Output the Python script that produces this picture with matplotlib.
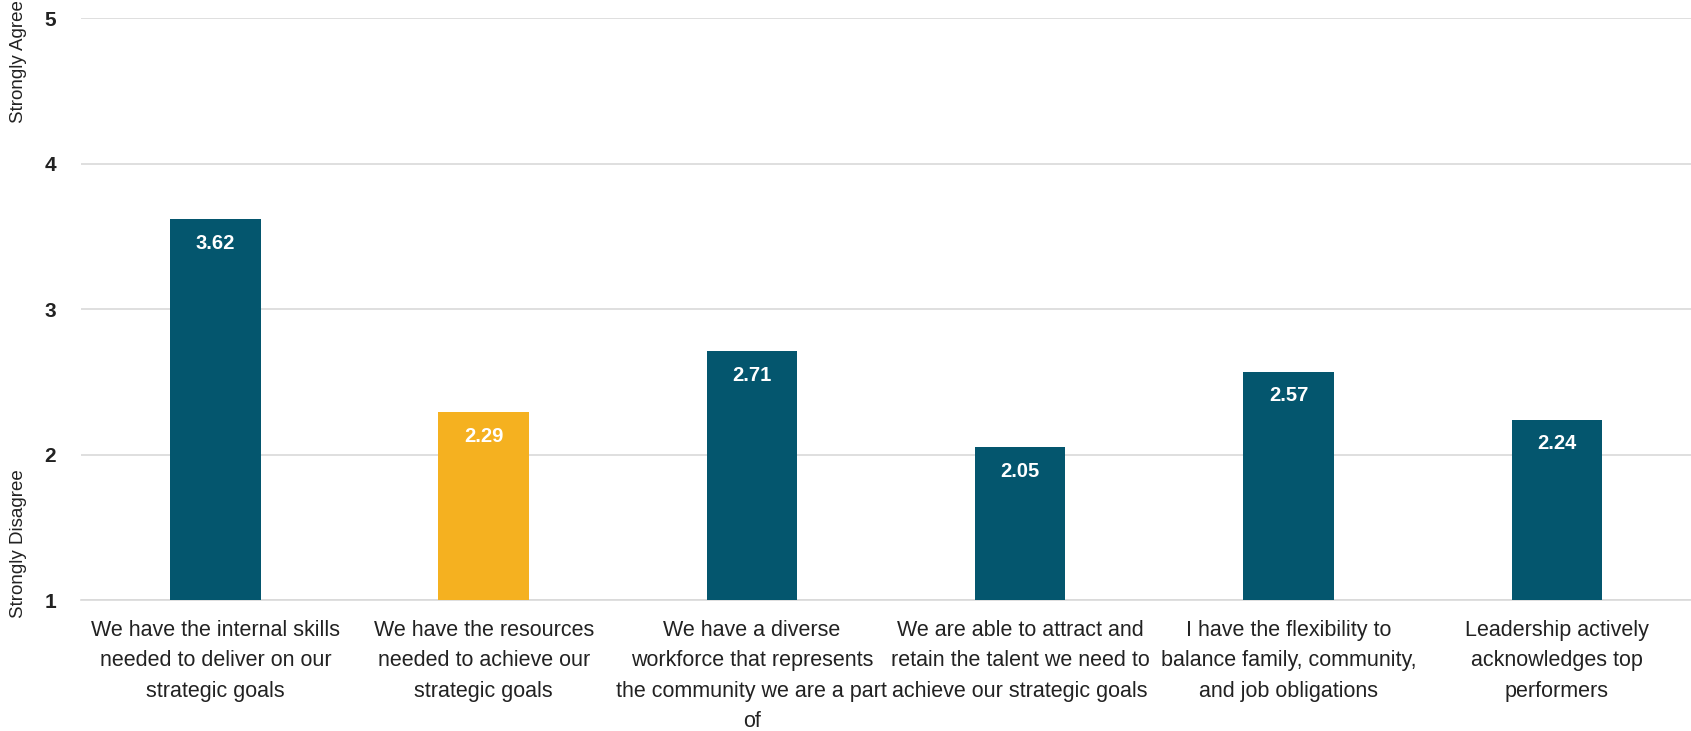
import matplotlib.pyplot as plt
import numpy as np

# survey statements and mean agreement scores (1-5)
statements = [
    "We have the internal skills\nneeded to deliver on our\nstrategic goals",
    "We have the resources\nneeded to achieve our\nstrategic goals",
    "We have a diverse\nworkforce that represents\nthe community we are a part\nof",
    "We are able to attract and\nretain the talent we need to\nachieve our strategic goals",
    "I have the flexibility to\nbalance family, community,\nand job obligations",
    "Leadership actively\nacknowledges top\nperformers",
]
scores = [3.62, 2.29, 2.71, 2.05, 2.57, 2.24]
highlight = 1  # the one bar drawn in gold

teal = "#04566e"
gold = "#f5b120"
font = ["Liberation Sans", "DejaVu Sans"]
ink = "#222222"

fig = plt.figure(figsize=(16.91, 7.31), dpi=100)
ax = fig.add_axes([0.048, 0.179, 0.952, 0.796])

x = np.arange(len(scores))
colors = [gold if i == highlight else teal for i in range(len(scores))]
ax.bar(x, [s - 1 for s in scores], bottom=1, width=0.337, color=colors, zorder=3)

for xi, s in zip(x, scores):
    ax.annotate(f"{s:.2f}", (xi, s), xytext=(0, -24), textcoords="offset pixels",
                ha="center", va="center", color="white", fontsize=14.5,
                fontweight="bold", family=font)

ax.set_xlim(-0.5, len(scores) - 0.5)
ax.set_ylim(1, 5)
ax.set_yticks([1, 2, 3, 4, 5])
ax.set_yticklabels(["1", "2", "3", "4", "5"], fontsize=15, color=ink,
                   fontweight="bold", family=font)
ax.set_xticks(x)
ax.set_xticklabels(statements, fontsize=15.5, color=ink, family=font,
                   linespacing=1.6, va="top")
ax.tick_params(axis="both", length=0)
ax.tick_params(axis="y", pad=18)
ax.tick_params(axis="x", pad=14)

ax.grid(axis="y", color="#d9d9d9", linewidth=1.2, zorder=0)
for side in ["top", "right", "left"]:
    ax.spines[side].set_visible(False)
ax.spines["bottom"].set_color("#d9d9d9")
ax.spines["bottom"].set_linewidth(1.2)

# end labels of the agreement scale
ax.text(-0.039, 4.70, "Strongly Agree", transform=ax.get_yaxis_transform(),
        rotation=90, ha="center", va="center", fontsize=13.5, color=ink,
        family=font)
ax.text(-0.039, 1.39, "Strongly Disagree", transform=ax.get_yaxis_transform(),
        rotation=90, ha="center", va="center", fontsize=13.5, color=ink,
        family=font)

fig.savefig("out.png", dpi=100, facecolor="white")
